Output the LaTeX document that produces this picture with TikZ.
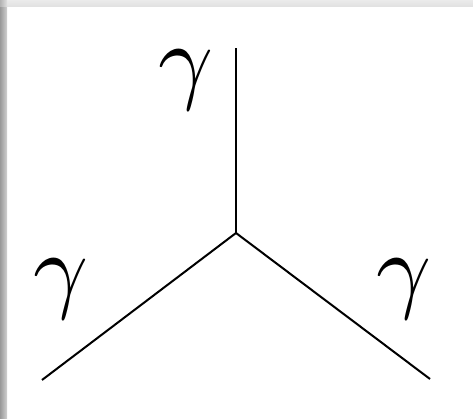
\documentclass[tikz,border=0pt]{standalone}
\begin{document}
\begin{tikzpicture}[x=1pt,y=1pt,
  leg/.style={line width=2pt},
  lbl/.style={inner sep=0pt,scale=9.6}]
\useasboundingbox (0,0) rectangle (473,419);
\fill[white] (0,0) rectangle (473,419);
\shade[left color=black!40,right color=black!18] (0,0) rectangle (7,412);
\shade[top color=black!8,bottom color=black!12] (0,412) rectangle (473,419);
\shade[left color=black!30,right color=black!12] (0,412) rectangle (7,419);
\coordinate (c) at (236,186);
\coordinate (t) at (236,371);
\coordinate (l) at (42,39);
\coordinate (r) at (430,40);
\draw[leg] (c) -- (t);
\draw[leg] (c) -- (l);
\draw[leg] (c) -- (r);
\node[lbl] (gt) at (186.5,338.5) {$\gamma$};
\node[lbl] (gl) at (61,130) {$\gamma$};
\node[lbl] (gr) at (404,130) {$\gamma$};
\end{tikzpicture}
\end{document}
